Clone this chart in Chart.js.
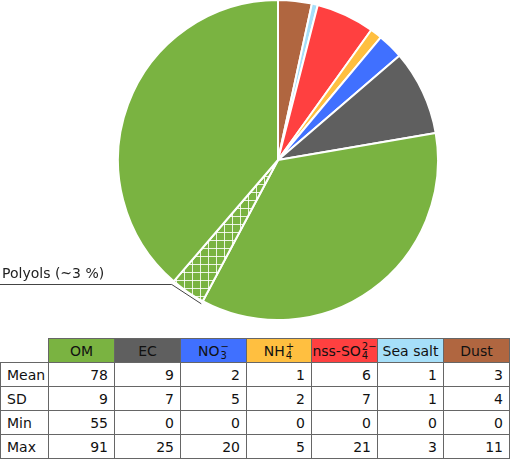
<!DOCTYPE html>
<html>
<head>
<meta charset="utf-8">
<script src="https://cdn.jsdelivr.net/npm/chart.js@4"></script>
<style>
  html, body { margin: 0; padding: 0; background: #fff; }
  body { width: 510px; height: 460px; position: relative; overflow: hidden; font-family: 'DejaVu Sans', sans-serif; }
  #pieBox { position: absolute; left: 0; top: 0; width: 510px; height: 320px; }
  #tabla { position: absolute; left: 0; top: 338px; border-collapse: collapse; table-layout: fixed; font-size: 14px; color: #111; }
  #tabla td { border: 1px solid #666; height: 23px; padding: 0; white-space: nowrap; overflow: hidden; }
  #tabla td.num { text-align: right; padding-right: 6px; }
  #tabla td.lab { text-align: left; padding-left: 6px; }
  #tabla td.vacia { border: none; }
  #tabla td.cab > div { display: flex; justify-content: center; align-items: center; height: 23px; white-space: nowrap; }
  .ss { display: inline-flex; flex-direction: column; font-size: 10px; line-height: 9px; margin-left: 1px; }
</style>
</head>
<body>
<div id="pieBox"><canvas id="graficaPie" width="510" height="320"></canvas></div>
<table id="tabla"></table>
<script>
// porciones del pastel, en sentido horario desde arriba (%)
const sliceLabels = ['Dust', 'Sea salt', 'nss-SO4', 'NH4', 'NO3', 'EC', 'OM', 'Polyols', 'OM'];
const sliceShares = [3.4, 0.6, 5.9, 1.2, 2.6, 8.6, 35.5, 3.5, 38.7];
const polyolsLabel = 'Polyols (~3 %)';

// tabla
const colBase = ['OM', 'EC', 'NO', 'NH', 'nss-SO', 'Sea salt', 'Dust'];
const colSub = ['', '', '3', '4', '4', '', ''];
const colSup = ['', '', '\u2212', '+', '2\u2212', '', ''];
const rowLabels = ['Mean', 'SD', 'Min', 'Max'];
const meanVals = [78, 9, 2, 1, 6, 1, 3];
const sdVals = [9, 7, 5, 2, 7, 1, 4];
const minVals = [55, 0, 0, 0, 0, 0, 0];
const maxVals = [91, 25, 20, 5, 21, 3, 11];

const colores = {
    'OM': '#7ab341',
    'EC': '#5f5f5f',
    'NO3': '#4070ff',
    'NH4': '#ffbf40',
    'nss-SO4': '#ff4040',
    'Sea salt': '#a6dff9',
    'Dust': '#b06640'
};
const colColores = ['#7ab341', '#5f5f5f', '#4070ff', '#ffbf40', '#ff4040', '#a6dff9', '#b06640'];

function patronPolyols() {
    const c = document.createElement('canvas');
    c.width = 8; c.height = 8;
    const g = c.getContext('2d');
    g.fillStyle = colores['OM'];
    g.fillRect(0, 0, 8, 8);
    g.fillStyle = 'rgba(255,255,255,0.85)';
    g.fillRect(0, 0, 8, 1);
    g.fillRect(0, 0, 1, 8);
    return g.createPattern(c, 'repeat');
}

const fondos = sliceLabels.map(l => l === 'Polyols' ? patronPolyols() : colores[l]);

// linea guia y etiqueta de polioles
const guiaPolyols = {
    id: 'guiaPolyols',
    afterDatasetsDraw(chart) {
        const idx = sliceLabels.indexOf('Polyols');
        const arc = chart.getDatasetMeta(0).data[idx];
        const r = arc.outerRadius + 3;
        const x1 = arc.x + Math.cos(arc.endAngle) * r;
        const y1 = arc.y + Math.sin(arc.endAngle) * r;
        const x2 = arc.x + Math.cos(arc.startAngle) * r;
        const y2 = arc.y + Math.sin(arc.startAngle) * r;
        const ctx = chart.ctx;
        ctx.save();
        ctx.strokeStyle = '#444';
        ctx.lineWidth = 1;
        ctx.beginPath();
        ctx.moveTo(0, Math.round(y1) + 0.5);
        ctx.lineTo(x1, Math.round(y1) + 0.5);
        ctx.lineTo(x2, y2);
        ctx.stroke();
        ctx.fillStyle = '#222';
        ctx.font = '14px "DejaVu Sans"';
        ctx.textBaseline = 'alphabetic';
        ctx.fillText(polyolsLabel, 2, Math.round(y1) - 6);
        ctx.restore();
    }
};

new Chart(document.getElementById('graficaPie').getContext('2d'), {
    type: 'pie',
    data: {
        labels: sliceLabels,
        datasets: [{
            data: sliceShares,
            backgroundColor: fondos,
            borderColor: '#fff',
            borderWidth: 2,
            hoverOffset: 0
        }]
    },
    options: {
        responsive: false,
        animation: false,
        radius: 160,
        layout: { padding: { left: 46 } },
        plugins: {
            legend: { display: false },
            tooltip: { enabled: false }
        }
    },
    plugins: [guiaPolyols]
});

// construir la tabla
const anchos = [48, 66, 66, 66, 65, 66, 66, 66];
const tabla = document.getElementById('tabla');
const cg = document.createElement('colgroup');
anchos.forEach(w => { const c = document.createElement('col'); c.style.width = w + 'px'; cg.appendChild(c); });
tabla.appendChild(cg);

const trCab = document.createElement('tr');
const vacia = document.createElement('td');
vacia.className = 'vacia';
trCab.appendChild(vacia);
colBase.forEach((b, i) => {
    const td = document.createElement('td');
    td.className = 'cab';
    td.style.background = colColores[i];
    let html = b;
    if (colSub[i] || colSup[i]) {
        html += '<span class="ss"><span>' + (colSup[i] || '&nbsp;') + '</span><span>' + (colSub[i] || '&nbsp;') + '</span></span>';
    }
    td.innerHTML = '<div>' + html + '</div>';
    trCab.appendChild(td);
});
tabla.appendChild(trCab);

[meanVals, sdVals, minVals, maxVals].forEach((vals, r) => {
    const tr = document.createElement('tr');
    const th = document.createElement('td');
    th.className = 'lab';
    th.textContent = rowLabels[r];
    tr.appendChild(th);
    vals.forEach(v => {
        const td = document.createElement('td');
        td.className = 'num';
        td.textContent = v;
        tr.appendChild(td);
    });
    tabla.appendChild(tr);
});
</script>
</body>
</html>
